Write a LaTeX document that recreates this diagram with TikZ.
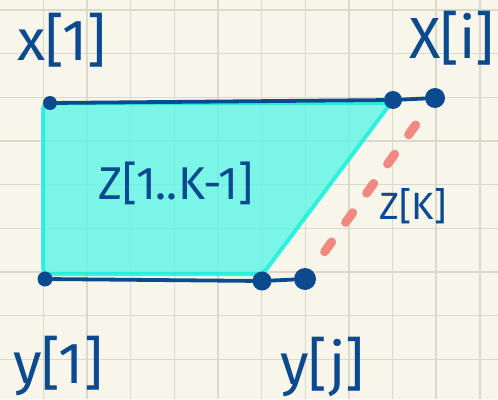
\documentclass[tikz,border=0pt]{standalone}
\usepackage{fontspec}
\usepackage{tikz}
\usetikzlibrary{positioning}

\newfontfamily\handfont{Fira Sans}

\definecolor{paper}{HTML}{F8F5EA}
\definecolor{gridgray}{HTML}{DCD8CB}
\definecolor{ink}{HTML}{0B4A8E}
\definecolor{aqua}{HTML}{5CF5E5}
\definecolor{aquaedge}{HTML}{10EFDE}
\definecolor{salmon}{HTML}{F08A80}

\begin{document}
\begin{tikzpicture}[
    x=1pt, y=-1pt,
    gridline/.style={
        draw=gridgray,
        line width=1.4pt
    },
    dot/.style={
        circle,
        fill=ink,
        inner sep=0pt,
        minimum size=#1
    },
    dot/.default=16pt,
    pen/.style={
        draw=ink,
        line width=3.8pt,
        line cap=round
    },
    zdash/.style={
        draw=salmon,
        line width=9pt,
        line cap=round,
        dash pattern=on 12pt off 24pt
    },
    lbl/.style={
        text=ink,
        inner sep=0pt,
        font=\handfont\fontsize{#1}{#1}\selectfont
    },
    lbl/.default=58pt
]

% paper and grid
\fill[paper] (0,0) rectangle (498,399);
\useasboundingbox (0,0) rectangle (498,399);
\foreach \i in {0,...,10}
    \draw[gridline] ({43.3+43.65*\i},0) -- ++(0,399);
\foreach \i in {0,...,8}
    \draw[gridline] (0,{10+43.65*\i}) -- ++(498,0);

% Z[1..K-1] region
\path[fill=aqua, fill opacity=.8, draw=aquaedge, draw opacity=.8,
      line width=4pt, rounded corners=6pt]
    (43,103) -- (391,103) -- (263,274) -- (43,274) -- cycle;

% end points
\node[dot=14pt] (xone) at (50,103) {};
\node[dot=18pt] (xprev) at (393,100) {};
\node[dot=20pt] (xi) at (435,98) {};
\node[dot=15pt] (yone) at (45,279) {};
\node[dot=19pt] (yprev) at (262,281) {};
\node[dot=22pt] (yj) at (305,279) {};

\draw[pen] (xone) -- (xprev);
\draw[pen] (xprev) -- (xi);
\draw[pen] (yone) -- (yprev);
\draw[pen] (yprev) -- (yj);

\draw[zdash, shorten <=23pt, shorten >=18pt] (xi) -- (yj);

% labels
\node[lbl] (lxone) at (62,40) {x[1]};
\node[lbl] (lxi) at (452,38) {X[i]};
\node[lbl] (lyone) at (58,366) {y[1]};
\node[lbl] (lyj) at (322,367) {y[j]};
\node[lbl=46pt] (lzprev) at (176,183) {Z[1..K-1]};
\node[lbl=38pt] (lzk) at (413,206) {Z[K]};

\end{tikzpicture}
\end{document}
